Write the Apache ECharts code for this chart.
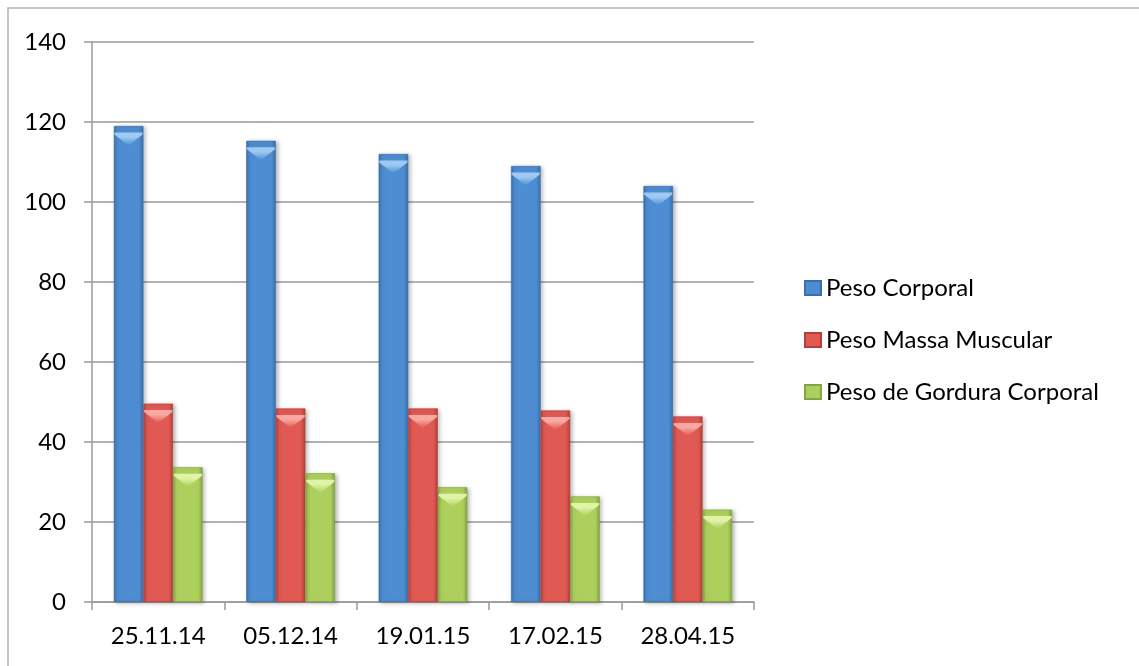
<!DOCTYPE html>
<html>
<head>
<meta charset="utf-8">
<script src="https://cdn.jsdelivr.net/npm/echarts@6/dist/echarts.min.js"></script>
<style>
  html, body { margin: 0; padding: 0; background: #fff; }
  #chart { width: 1139px; height: 666px; }
</style>
</head>
<body>
<div id="chart"></div>
<script>
// Measurement dates
const categories = ['25.11.14', '05.12.14', '19.01.15', '17.02.15', '28.04.15'];

// Weights in kg
const pesoCorporal = [119, 115.3, 112, 109, 104];
const pesoMassaMuscular = [49.6, 48.4, 48.4, 47.9, 46.4];
const pesoGordura = [33.7, 32.2, 28.7, 26.4, 23.1];

const seriesNames = ['Peso Corporal', 'Peso Massa Muscular', 'Peso de Gordura Corporal'];
const seriesValues = [pesoCorporal, pesoMassaMuscular, pesoGordura];

// Fill tones per series: edge, centre, bevel highlight
const palette = [
  { edge: '#3a6fab', mid: '#4e8dd1', hi: '#a6d0f7' },
  { edge: '#b43f3a', mid: '#e15953', hi: '#fbb1ab' },
  { edge: '#84a542', mid: '#add05d', hi: '#e6f7b0' }
];

const FONT = 'Lato, "Open Sans", sans-serif';
const BAR_W = 29.7;

function barFill(p) {
  return new echarts.graphic.LinearGradient(0, 0, 1, 0, [
    { offset: 0, color: p.edge },
    { offset: 0.12, color: p.mid },
    { offset: 0.85, color: p.mid },
    { offset: 1, color: p.edge }
  ]);
}

const barSeries = seriesNames.map((name, i) => ({
  name: name,
  type: 'bar',
  data: seriesValues[i],
  barGap: '0%',
  barCategoryGap: '33%',
  itemStyle: {
    color: barFill(palette[i]),
    borderColor: palette[i].edge,
    borderWidth: 0.6,
    shadowColor: 'rgba(0,0,0,0.28)',
    shadowBlur: 4,
    shadowOffsetX: 2,
    shadowOffsetY: 1
  },
  emphasis: { disabled: true },
  z: 2
}));

// Bevelled cap on each bar top: light rim with a highlight wedge below it
const capSeries = seriesNames.map((name, i) => ({
  name: name + ' cap',
  type: 'pictorialBar',
  data: seriesValues[i],
  symbol: 'path://M0,0 L30,0 L30,2 L15,13 L0,2 Z',
  symbolSize: [BAR_W - 1.5, 13],
  symbolPosition: 'end',
  symbolOffset: [(i - 1) * BAR_W, '50%'],
  itemStyle: {
    color: new echarts.graphic.LinearGradient(0, 0, 0, 1, [
      { offset: 0, color: palette[i].hi },
      { offset: 0.35, color: palette[i].hi },
      { offset: 1, color: palette[i].mid }
    ]),
    opacity: 0.9
  },
  silent: true,
  z: 3
}));

const chart = echarts.init(document.getElementById('chart'), null, { renderer: 'canvas' });

chart.setOption({
  animation: false,
  backgroundColor: '#ffffff',
  graphic: [{
    type: 'rect',
    shape: { x: 8, y: 8, width: 1200, height: 700 },
    style: { fill: 'none', stroke: '#b3b3b3', lineWidth: 1.5 },
    silent: true
  }],
  grid: { left: 92, right: 385, top: 42, bottom: 64 },
  legend: {
    data: seriesNames,
    orient: 'vertical',
    left: 804,
    top: 276,
    padding: 0,
    itemWidth: 16,
    itemHeight: 14,
    itemGap: 28,
    icon: 'rect',
    textStyle: { fontFamily: FONT, fontSize: 24, color: '#000' },
    selectedMode: false
  },
  xAxis: {
    type: 'category',
    data: categories,
    boundaryGap: true,
    axisLine: { show: true, lineStyle: { color: '#9a9a9a', width: 1.5 } },
    axisTick: { show: true, length: 8, inside: false, lineStyle: { color: '#9a9a9a', width: 1.5 } },
    axisLabel: { margin: 22, fontFamily: FONT, fontSize: 24, color: '#000' }
  },
  yAxis: {
    type: 'value',
    min: 0,
    max: 140,
    interval: 20,
    axisLine: { show: true, lineStyle: { color: '#9a9a9a', width: 1.5 } },
    axisTick: { show: true, length: 8, lineStyle: { color: '#9a9a9a', width: 1.5 } },
    axisLabel: { margin: 26, fontFamily: FONT, fontSize: 24, color: '#000' },
    splitLine: { show: true, lineStyle: { color: '#9a9a9a', width: 1.5 } }
  },
  series: barSeries.concat(capSeries)
});
</script>
</body>
</html>
